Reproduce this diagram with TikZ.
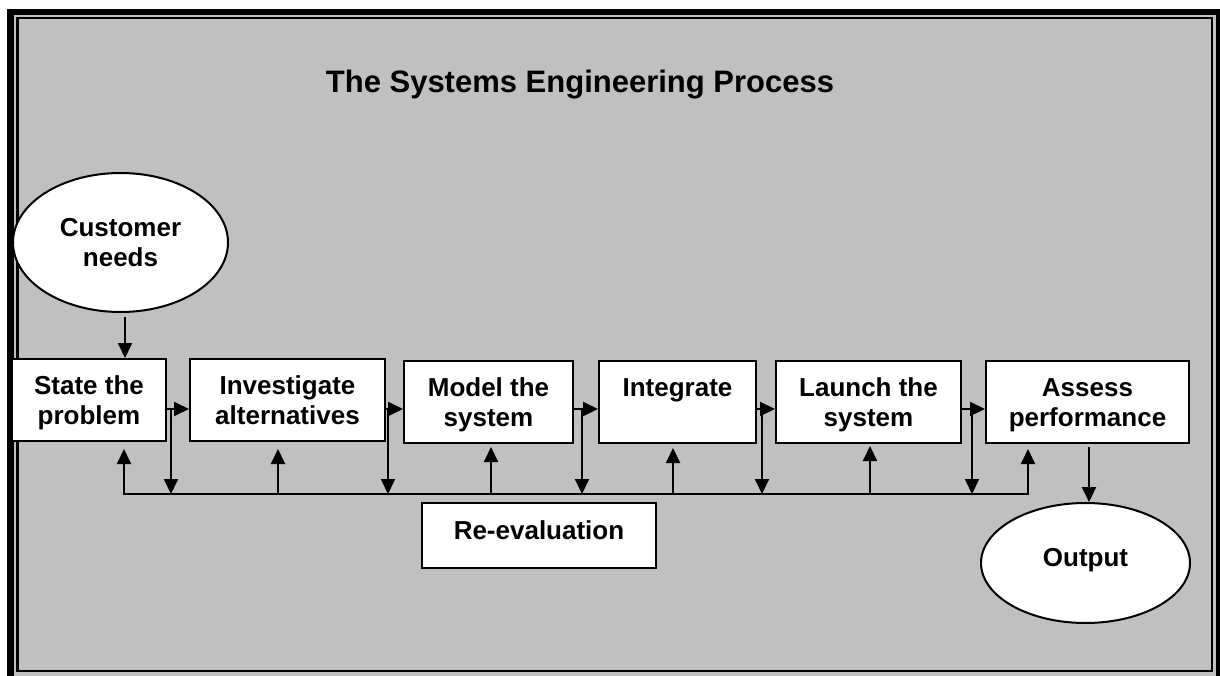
\documentclass[tikz,border=0pt]{standalone}
\usepackage{fontspec}
\setmainfont{Liberation Sans}
\usetikzlibrary{arrows.meta,shapes.geometric}
\definecolor{panel}{RGB}{192,192,192}
\newcommand\mystrut{\rule[-6pt]{0pt}{30pt}}
\begin{document}
\begin{tikzpicture}[x=1pt,y=-1pt,
  boxst/.style={draw=black, line width=2pt, fill=white, inner sep=0pt,
    minimum height=82pt, align=center, font=\fontsize{26}{30}\selectfont\bfseries},
  ellst/.style={ellipse, draw=black, line width=2pt, fill=white, inner sep=0pt,
    font=\fontsize{26}{30}\selectfont\bfseries},
  arr/.style={-{Triangle[length=15pt,width=14pt]}, line width=2pt},
  ln/.style={line width=2pt}]
\useasboundingbox (0,0) rectangle (1220,676);
% frame
\fill[white] (0,0) rectangle (1220,676);
\fill[black] (7,9) rectangle (1230,690);
\fill[panel] (14,15) rectangle (1216,690);
\draw[line width=2.2pt, fill=panel] (17.5,18) rectangle (1212,671);
% title
\node[anchor=base, font=\fontsize{31}{36}\selectfont\bfseries] (title) at (580,93) {The Systems Engineering Process};
% nodes
\node[ellst, align=center, minimum width=215pt, minimum height=139pt] (cn) at (120.5,242.5) {\mystrut Customer\\\mystrut needs};
\node[boxst, minimum width=154pt] (st) at (89,400) {\mystrut State the\\\mystrut problem};
\node[boxst, minimum width=195pt] (iv) at (287.5,400) {\mystrut Investigate\\\mystrut alternatives};
\node[boxst, minimum width=169pt] (mo) at (488.5,402) {\mystrut Model the\\\mystrut system};
\node[boxst, minimum width=157pt] (in) at (677.5,402) {\mystrut Integrate\\\mystrut};
\node[boxst, minimum width=185pt] (la) at (868.5,402) {\mystrut Launch the\\\mystrut system};
\node[boxst, minimum width=203pt] (as) at (1087.5,402) {\mystrut Assess\\\mystrut performance};
\node[draw=black, line width=2pt, fill=white, inner sep=0pt, minimum width=234pt, minimum height=65pt,
  text height=22pt, text depth=15pt, font=\fontsize{26}{30}\selectfont\bfseries] (re) at (539,535.5) {Re-evaluation};
\node[ellst, minimum width=209pt, minimum height=120pt, text height=22pt, text depth=16pt] (out) at (1085.5,563) {Output};
% levels
\coordinate (hl) at (0,409);
\coordinate (bus) at (0,494);
% customer -> state
\draw[arr, shorten <=4pt] ([xshift=4.5pt]cn.south) -- ([xshift=4.5pt]cn.south |- st.north);
% forward arrows
\draw[arr] (st.east |- hl) -- (iv.west |- hl);
\draw[arr] (iv.east |- hl) -- (mo.west |- hl);
\draw[arr] (mo.east |- hl) -- (in.west |- hl);
\draw[arr] (in.east |- hl) -- (la.west |- hl);
\draw[arr] (la.east |- hl) -- (as.west |- hl);
% down lines to bus
\coordinate (d1) at (171,409);
\coordinate (d2) at (388,409);
\coordinate (d3) at (582,409);
\coordinate (d4) at (762,409);
\coordinate (d5) at (972,409);
\foreach \d in {d1,d2,d3,d4,d5} \draw[arr] (\d) -- (\d |- bus);
% bus with end up-arrows
\coordinate (bl) at (124,494);
\coordinate (br) at (1028,494);
\draw[{Triangle[length=15pt,width=14pt]}-{Triangle[length=15pt,width=14pt]}, line width=2pt,
  shorten <=7pt, shorten >=5pt] (bl |- st.south) -- (bl) -- (br) -- (br |- as.south);
% middle up arrows
\coordinate (u2) at (278,494);
\coordinate (u3) at (491,494);
\coordinate (u4) at (673,494);
\coordinate (u5) at (870,494);
\draw[arr, shorten >=7pt] (u2) -- (u2 |- iv.south);
\draw[arr, shorten >=3pt] (u3) -- (u3 |- mo.south);
\draw[arr, shorten >=4pt] (u4) -- (u4 |- in.south);
\draw[arr, shorten >=2pt] (u5) -- (u5 |- la.south);
% assess -> output
\draw[arr, shorten <=3pt] ([xshift=1.5pt]as.south) -- ([xshift=1.5pt]as.south |- out.north);
\end{tikzpicture}
\end{document}
